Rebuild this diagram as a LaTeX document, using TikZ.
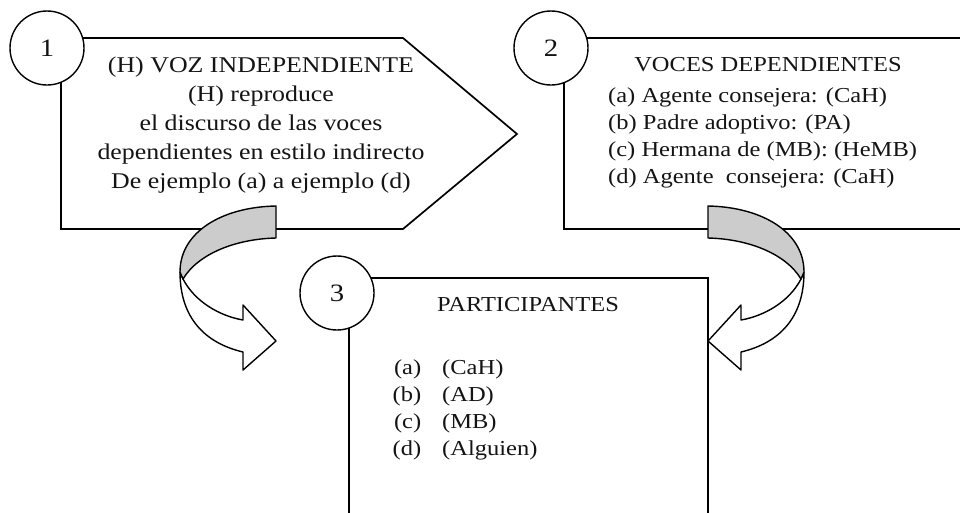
\documentclass[tikz,border=0pt]{standalone}
\usepackage{fontspec}
\setmainfont{Liberation Serif}[FakeStretch=1.15]
\definecolor{bandgray}{RGB}{204,204,204}
\definecolor{inkcol}{RGB}{20,20,20}

\tikzset{
  frame/.style={line width=1.7pt, draw=black, line join=miter},
  arrowline/.style={line width=1.4pt, draw=black, line join=round},
  numc/.style={circle, draw=black, line width=1.4pt, fill=white, minimum size=74pt,
    inner sep=0pt, font=\fontsize{25}{30}\selectfont, text=inkcol},
  txt/.style={inner sep=0pt, text=inkcol},
  bigtxt/.style={txt, font=\fontsize{22.5}{29}\selectfont},
  smalltxt/.style={txt, font=\fontsize{21.3}{27}\selectfont},
  % curled arrow ribbon: grey back face on top, white front face ending in a head
  twistarrow/.pic={
    \draw[arrowline, fill=white]
      (180,272) .. controls (180,318) and (205,343) .. (243,352)
      -- (243,370) -- (276,341) -- (243,305) -- (243,320)
      .. controls (220,316) and (195,302) .. (183,279) -- cycle;
    \draw[arrowline, fill=bandgray]
      (276,206) .. controls (222,207) and (180,232) .. (180,272)
      -- (183,279) .. controls (198,254) and (235,239) .. (276,238) -- cycle;
  }
}

\begin{document}
\begin{tikzpicture}[x=1pt, y=-1pt]
\fill[white] (0,0) rectangle (960,512);
\useasboundingbox (0,0) rectangle (960,512);

% frame 1: pentagon pointing right
\draw[frame] (47,38) -- (403,38) -- (517,134) -- (403,229) -- (61,229) -- (61,48);
% frame 2: open on the right
\draw[frame] (551,38) -- (962,38);
\draw[frame] (962,229) -- (564,229) -- (564,48);
% frame 3: open at the bottom
\draw[frame] (337,278) -- (708,278) -- (708,514);
\draw[frame] (349,293) -- (349,514);

% curled arrows
\pic (arrL) at (0,0) {twistarrow};
\pic[xscale=-1] (arrR) at (984,0) {twistarrow};

% numbered circles
\node[numc] (c1) at (47,48) {1};
\node[numc] (c2) at (551,48) {2};
\node[numc] (c3) at (337,293) {3};

% texts of frame 1
\node[bigtxt, align=center] (t1) at (261,125)
  {(H) VOZ INDEPENDIENTE\\
   (H) reproduce\\
   el discurso de las voces\\
   dependientes en estilo indirecto\\
   De ejemplo (a) a ejemplo (d)};

% texts of frame 2
\node[smalltxt] (t2head) at (768,65) {VOCES DEPENDIENTES};
\node[smalltxt, align=left, anchor=west] (t2list) at (608,138)
  {(a) Agente consejera: (CaH)\\
   (b) Padre adoptivo: (PA)\\
   (c) Hermana de (MB): (HeMB)\\
   (d) Agente\ \ consejera: (CaH)};

% texts of frame 3
\node[smalltxt] (t3head) at (528,305) {PARTICIPANTES};
\node[smalltxt, align=left, anchor=west] (t3list) at (392,410)
  {\makebox[29pt][r]{(a)}\hspace{21pt}(CaH)\\
   \makebox[29pt][r]{(b)}\hspace{21pt}(AD)\\
   \makebox[29pt][r]{(c)}\hspace{21pt}(MB)\\
   \makebox[29pt][r]{(d)}\hspace{21pt}(Alguien)};
\end{tikzpicture}
\end{document}
